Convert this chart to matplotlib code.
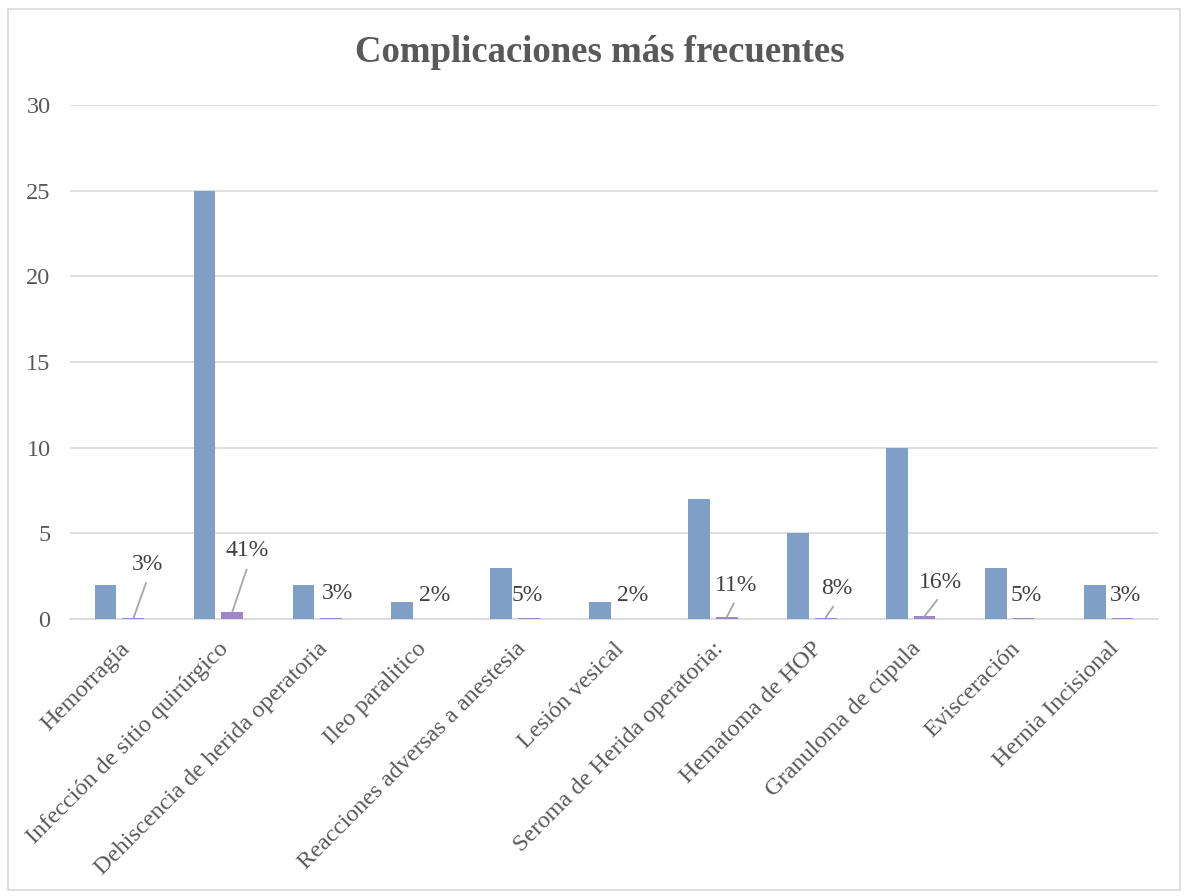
import matplotlib
matplotlib.use("Agg")
import matplotlib.pyplot as plt
from matplotlib.patches import Rectangle
import numpy as np

categories = ["Hemorragia", "Infección de sitio quirúrgico", "Dehiscencia de herida operatoria",
              "Ileo paralitico", "Reacciones adversas a anestesia", "Lesión vesical",
              "Seroma de Herida operatoria:", "Hematoma de HOP", "Granuloma de cúpula",
              "Evisceración", "Hernia Incisional"]
counts = [2, 25, 2, 1, 3, 1, 7, 5, 10, 3, 2]
percents = [0.033, 0.41, 0.033, 0.016, 0.049, 0.016, 0.114, 0.082, 0.164, 0.049, 0.033]
yticks = [0, 5, 10, 15, 20, 25, 30]

# label offsets (pixels) and whether a leader line is drawn
label_offsets = [(14, 54, True), (15, 61, True), (6, 25, False), (5, 23, False), (-2, 23, False),
                 (5, 23, False), (9, 32, True), (11, 29, True), (16, 34, True), (3, 23, False),
                 (3, 23, False)]

plt.rcParams['font.family'] = ['Liberation Serif', 'DejaVu Serif']

fig = plt.figure(figsize=(11.86, 8.96), dpi=100)
fig.patches.append(Rectangle((8/1186, 1-890/896), (1180-8)/1186, (890-9)/896,
                             transform=fig.transFigure, fill=False, edgecolor='#d9d9d9', lw=1.2))
ax = fig.add_axes([70/1186, 1-619/896, (1158-70)/1186, (619-105)/896])

x = np.arange(len(categories))
w = 0.22
ax.bar(x - 0.14, counts, width=w, color='#7f9fc6', zorder=3)
ax.bar(x + 0.14, percents, width=w, color='#9f86c9', zorder=3)

for i, p in enumerate(percents):
    dx, dy, line = label_offsets[i]
    kw = {}
    if line:
        kw['arrowprops'] = dict(arrowstyle='-', color='#a6a6a6', lw=1.3, shrinkA=4, shrinkB=0,
                                relpos=(0.55, 0.0))
    ax.annotate(f"{p:.0%}", xy=(x[i] + 0.14, p), xytext=(dx, dy), textcoords='offset pixels',
                ha='center', va='center', fontsize=17, color='#404040', **kw)

ax.set_xlim(-0.5, len(categories) - 0.5)
ax.set_ylim(0, 30)
ax.set_yticks(yticks)
ax.yaxis.grid(True, color='#d9d9d9', lw=1.2, zorder=0)
for s in ['left', 'right', 'top']:
    ax.spines[s].set_visible(False)
ax.spines['bottom'].set_color('#d9d9d9')
ax.spines['bottom'].set_linewidth(1.2)
ax.tick_params(axis='both', length=0, labelsize=17.5, colors='#595959')
ax.tick_params(axis='y', pad=14)
ax.set_xticks(x)
ax.set_xticklabels(categories, rotation=45, ha='right', rotation_mode='anchor', va='top')
ax.tick_params(axis='x', pad=14)

fig.text(600/1186, 1-52/896, "Complicaciones más frecuentes", ha='center', va='center',
         fontsize=26.5, fontweight='bold', color='#595959')

fig.savefig("out.png", dpi=100)
